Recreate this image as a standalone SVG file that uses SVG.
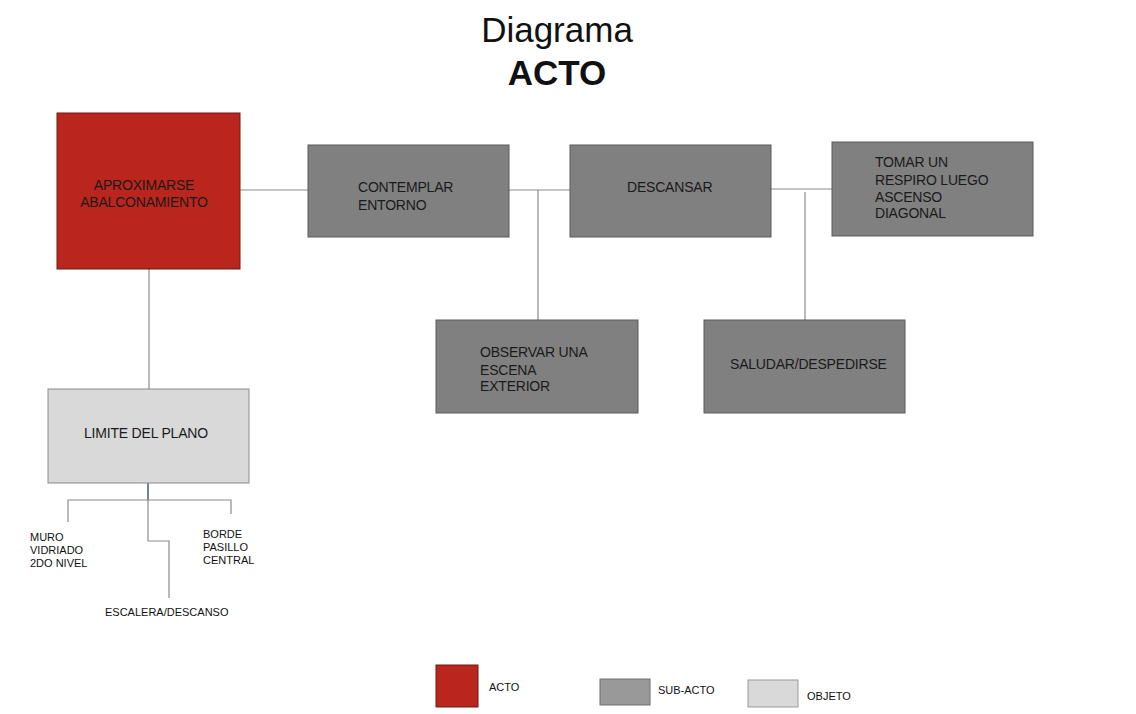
<svg xmlns="http://www.w3.org/2000/svg" width="1136" height="714" viewBox="0 0 1136 714">
<style>
text{font-family:"Liberation Sans",Arial,sans-serif;fill:#1a1a1a}
.t{font-size:14px;letter-spacing:-0.2px}
.s{font-size:11px;fill:#111}
.acto{fill:#ba251d;stroke:#6e1a14;stroke-width:1}
.sub{fill:#808080;stroke:#5a5a5a;stroke-width:1}
.obj{fill:#d9d9d9;stroke:#8a8a8a;stroke-width:1}
.c{fill:none;stroke:#8c8c8c;stroke-width:1.2}
</style>
<rect width="1136" height="714" fill="#fff"/>
<g id="title">
<text x="557" y="42" text-anchor="middle" style="font-size:35px;fill:#111">Diagrama</text>
<text x="557" y="85" text-anchor="middle" style="font-size:35px;font-weight:bold;fill:#111">ACTO</text>
</g>
<g id="connectors">
<path class="c" d="M240 190H308"/>
<path class="c" d="M149 269V389"/>
<path class="c" d="M509 190H570M538 190V320"/>
<path class="c" d="M771 189H832M805 192V320"/>
<path d="M148 483V500" stroke="#1f2a5a" stroke-width="1.2" fill="none"/>
<path class="c" d="M68 522V500H231V514"/>
<path class="c" d="M148 500V541H169V598"/>
</g>
<g id="aproximarse">
<rect class="acto" x="57" y="113" width="183" height="156"/>
<text class="t" x="144" y="190" text-anchor="middle">APROXIMARSE</text>
<text class="t" x="144" y="207" text-anchor="middle">ABALCONAMIENTO</text>
</g>
<g id="contemplar">
<rect class="sub" x="308" y="145" width="201" height="92"/>
<text class="t" x="358" y="192">CONTEMPLAR</text>
<text class="t" x="358" y="210">ENTORNO</text>
</g>
<g id="descansar">
<rect class="sub" x="570" y="145" width="201" height="92"/>
<text class="t" x="627" y="192">DESCANSAR</text>
</g>
<g id="tomar">
<rect class="sub" x="832" y="142" width="201" height="94"/>
<text class="t" x="875" y="167">TOMAR UN</text>
<text class="t" x="875" y="185">RESPIRO LUEGO</text>
<text class="t" x="875" y="202">ASCENSO</text>
<text class="t" x="875" y="218">DIAGONAL</text>
</g>
<g id="observar">
<rect class="sub" x="436" y="320" width="202" height="93"/>
<text class="t" x="480" y="357">OBSERVAR UNA</text>
<text class="t" x="480" y="375">ESCENA</text>
<text class="t" x="480" y="391">EXTERIOR</text>
</g>
<g id="saludar">
<rect class="sub" x="704" y="320" width="201" height="93"/>
<text class="t" x="730" y="369">SALUDAR/DESPEDIRSE</text>
</g>
<g id="limite">
<rect class="obj" x="48" y="389" width="201" height="94"/>
<text class="t" x="84" y="438">LIMITE DEL PLANO</text>
</g>
<g id="muro">
<text class="s" x="30" y="541">MURO</text>
<text class="s" x="30" y="554">VIDRIADO</text>
<text class="s" x="30" y="567">2DO NIVEL</text>
</g>
<g id="borde">
<text class="s" x="203" y="538">BORDE</text>
<text class="s" x="203" y="551">PASILLO</text>
<text class="s" x="203" y="564">CENTRAL</text>
</g>
<g id="escalera">
<text class="s" x="105" y="616">ESCALERA/DESCANSO</text>
</g>
<g id="legend">
<rect class="acto" x="436" y="665" width="42" height="42"/>
<text class="s" x="489" y="691">ACTO</text>
<rect x="600" y="679" width="50" height="26" fill="#999" stroke="#6e6e6e"/>
<text class="s" x="658" y="694">SUB-ACTO</text>
<rect x="748" y="680" width="50" height="27" fill="#d9d9d9" stroke="#9a9a9a"/>
<text class="s" x="807" y="700">OBJETO</text>
</g>
</svg>
